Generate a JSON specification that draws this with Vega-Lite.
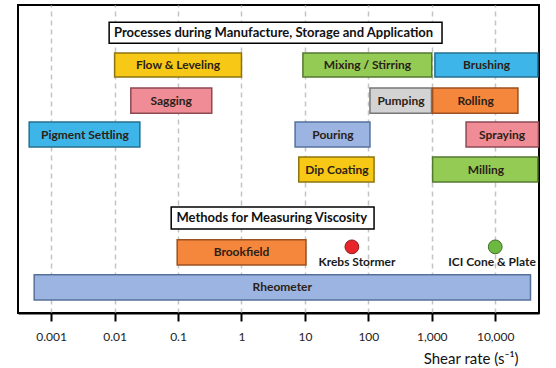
{
  "$schema": "https://vega.github.io/schema/vega-lite/v6.json",
  "width": 521,
  "height": 308,
  "autosize": "none",
  "padding": {"left": 18, "top": 5, "right": 17, "bottom": 55},
  "background": "white",
  "config": {
    "view": {"stroke": "black", "strokeWidth": 2},
    "font": "Lato",
    "axisX": {"grid": true, "gridColor": "#c4c4c4", "gridDash": [5, 4], "gridWidth": 1.5,
      "domainColor": "black", "domainWidth": 2, "tickColor": "black", "tickWidth": 2, "tickSize": 8,
      "labelFont": "Lato", "labelFontSize": 12, "labelColor": "#222222", "labelPadding": 10,
      "titleFont": "Lato", "titleFontSize": 15, "titleFontWeight": "normal",
      "titleColor": "#111111", "titleAnchor": "end", "titleX": 500, "titleY": 45, "titleBaseline": "middle"}
  },
  "datasets": {
    "bars": [
      {"name": "Flow & Leveling", "lo": 0.01, "hi": 1, "top": 1.37, "bottom": 2.06, "mid": 0.1, "lane": 1.72},
      {"name": "Sagging", "lo": 0.018, "hi": 0.34, "top": 2.37, "bottom": 3.09, "mid": 0.078, "lane": 2.73},
      {"name": "Pigment Settling", "lo": 0.00045, "hi": 0.025, "top": 3.34, "bottom": 4.06, "mid": 0.0034, "lane": 3.7},
      {"name": "Mixing / Stirring", "lo": 9.3, "hi": 1000, "top": 1.37, "bottom": 2.06, "mid": 97, "lane": 1.72},
      {"name": "Brushing", "lo": 1120, "hi": 47000, "top": 1.37, "bottom": 2.06, "mid": 7300, "lane": 1.72},
      {"name": "Pumping", "lo": 106, "hi": 990, "top": 2.37, "bottom": 3.09, "mid": 327, "lane": 2.73},
      {"name": "Rolling", "lo": 1030, "hi": 22800, "top": 2.37, "bottom": 3.09, "mid": 4900, "lane": 2.73},
      {"name": "Pouring", "lo": 7, "hi": 106, "top": 3.34, "bottom": 4.06, "mid": 27.7, "lane": 3.7},
      {"name": "Spraying", "lo": 3470, "hi": 48000, "top": 3.34, "bottom": 4.06, "mid": 12800, "lane": 3.7},
      {"name": "Dip Coating", "lo": 8, "hi": 123, "top": 4.34, "bottom": 5.06, "mid": 32, "lane": 4.7},
      {"name": "Milling", "lo": 1030, "hi": 47000, "top": 4.34, "bottom": 5.06, "mid": 7150, "lane": 4.7},
      {"name": "Brookfield", "lo": 0.097, "hi": 10.4, "top": 6.71, "bottom": 7.43, "mid": 1, "lane": 7.07},
      {"name": "Rheometer", "lo": 0.00054, "hi": 36000, "top": 7.71, "bottom": 8.43, "mid": 4.4, "lane": 8.07}
    ],
    "boxes": [
      {"name": "Processes during Manufacture, Storage and Application", "lo": 0.0082, "hi": 1450, "top": 0.49, "bottom": 1.09, "mid": 3.2, "lane": 0.79},
      {"name": "Methods for Measuring Viscosity", "lo": 0.078, "hi": 123, "top": 5.77, "bottom": 6.4, "mid": 3, "lane": 6.09}
    ],
    "markers": [
      {"name": "Krebs Stormer", "mid": 55, "lane": 6.91, "labelMid": 66, "labelLane": 7.34},
      {"name": "ICI Cone & Plate", "mid": 10000, "lane": 6.91, "labelMid": 8900, "labelLane": 7.34}
    ]
  },
  "layer": [
    {
      "data": {"name": "bars"},
      "mark": {"type": "bar", "strokeWidth": 1.5},
      "encoding": {
        "x": {"field": "lo", "type": "quantitative",
          "scale": {"type": "log", "domain": [0.0003, 49000]},
          "axis": {"values": [0.001, 0.01, 0.1, 1, 10, 100, 1000, 10000], "format": ",~g", "title": "Shear rate (s⁻¹)"}},
        "x2": {"field": "hi"},
        "y": {"field": "top", "type": "quantitative", "scale": {"domain": [0, 8.8], "reverse": true}, "axis": null},
        "y2": {"field": "bottom"},
        "fill": {"field": "name", "type": "nominal", "legend": null,
          "scale": {"domain": ["Flow & Leveling", "Sagging", "Pigment Settling", "Mixing / Stirring", "Brushing", "Pumping", "Rolling", "Pouring", "Spraying", "Dip Coating", "Milling", "Brookfield", "Rheometer"],
            "range": ["#F7C815", "#EF8C95", "#3DB5E8", "#94CB55", "#3DB5E8", "#D3D3D3", "#F5873D", "#9CB4E2", "#EF8C95", "#F7C815", "#94CB55", "#F5873D", "#9CB4E2"]}},
        "stroke": {"field": "name", "type": "nominal", "legend": null,
          "scale": {"domain": ["Flow & Leveling", "Sagging", "Pigment Settling", "Mixing / Stirring", "Brushing", "Pumping", "Rolling", "Pouring", "Spraying", "Dip Coating", "Milling", "Brookfield", "Rheometer"],
            "range": ["#8C7410", "#8C4A52", "#25708F", "#55782F", "#25708F", "#777777", "#9A5020", "#56709C", "#8C4A52", "#8C7410", "#55782F", "#9A5020", "#56709C"]}}
      }
    },
    {
      "data": {"name": "bars"},
      "mark": {"type": "text", "font": "Lato", "fontWeight": "bold", "fontSize": 12, "color": "#2b2116", "baseline": "middle", "align": "center"},
      "encoding": {
        "x": {"field": "mid", "type": "quantitative", "scale": {"type": "log", "domain": [0.0003, 49000]},
          "axis": {"values": [0.001, 0.01, 0.1, 1, 10, 100, 1000, 10000], "format": ",~g", "title": "Shear rate (s⁻¹)"}},
        "y": {"field": "lane", "type": "quantitative", "scale": {"domain": [0, 8.8], "reverse": true}, "axis": null},
        "text": {"field": "name"}
      }
    },
    {
      "data": {"name": "boxes"},
      "mark": {"type": "bar", "fill": "white", "stroke": "black", "strokeWidth": 1.5},
      "encoding": {
        "x": {"field": "lo", "type": "quantitative", "scale": {"type": "log", "domain": [0.0003, 49000]},
          "axis": {"values": [0.001, 0.01, 0.1, 1, 10, 100, 1000, 10000], "format": ",~g", "title": "Shear rate (s⁻¹)"}},
        "x2": {"field": "hi"},
        "y": {"field": "top", "type": "quantitative", "scale": {"domain": [0, 8.8], "reverse": true}, "axis": null},
        "y2": {"field": "bottom"}
      }
    },
    {
      "data": {"name": "boxes"},
      "mark": {"type": "text", "font": "Lato", "fontWeight": "bold", "fontSize": 13, "color": "#111111", "baseline": "middle", "align": "center"},
      "encoding": {
        "x": {"field": "mid", "type": "quantitative", "scale": {"type": "log", "domain": [0.0003, 49000]},
          "axis": {"values": [0.001, 0.01, 0.1, 1, 10, 100, 1000, 10000], "format": ",~g", "title": "Shear rate (s⁻¹)"}},
        "y": {"field": "lane", "type": "quantitative", "scale": {"domain": [0, 8.8], "reverse": true}, "axis": null},
        "text": {"field": "name"}
      }
    },
    {
      "data": {"name": "markers"},
      "mark": {"type": "point", "shape": "circle", "filled": true, "size": 190, "strokeWidth": 1, "opacity": 1},
      "encoding": {
        "x": {"field": "mid", "type": "quantitative", "scale": {"type": "log", "domain": [0.0003, 49000]},
          "axis": {"values": [0.001, 0.01, 0.1, 1, 10, 100, 1000, 10000], "format": ",~g", "title": "Shear rate (s⁻¹)"}},
        "y": {"field": "lane", "type": "quantitative", "scale": {"domain": [0, 8.8], "reverse": true}, "axis": null},
        "fill": {"field": "name", "type": "nominal", "legend": null, "scale": {"domain": ["Krebs Stormer", "ICI Cone & Plate"], "range": ["#E8262A", "#6DB840"]}},
        "stroke": {"field": "name", "type": "nominal", "legend": null, "scale": {"domain": ["Krebs Stormer", "ICI Cone & Plate"], "range": ["#8A1A1A", "#3E6E22"]}}
      }
    },
    {
      "data": {"name": "markers"},
      "mark": {"type": "text", "font": "Lato", "fontWeight": "bold", "fontSize": 12, "color": "#1a1a1a", "baseline": "middle", "align": "center"},
      "encoding": {
        "x": {"field": "labelMid", "type": "quantitative", "scale": {"type": "log", "domain": [0.0003, 49000]},
          "axis": {"values": [0.001, 0.01, 0.1, 1, 10, 100, 1000, 10000], "format": ",~g", "title": "Shear rate (s⁻¹)"}},
        "y": {"field": "labelLane", "type": "quantitative", "scale": {"domain": [0, 8.8], "reverse": true}, "axis": null},
        "text": {"field": "name"}
      }
    }
  ],
  "resolve": {"scale": {"fill": "independent", "stroke": "independent"}}
}
